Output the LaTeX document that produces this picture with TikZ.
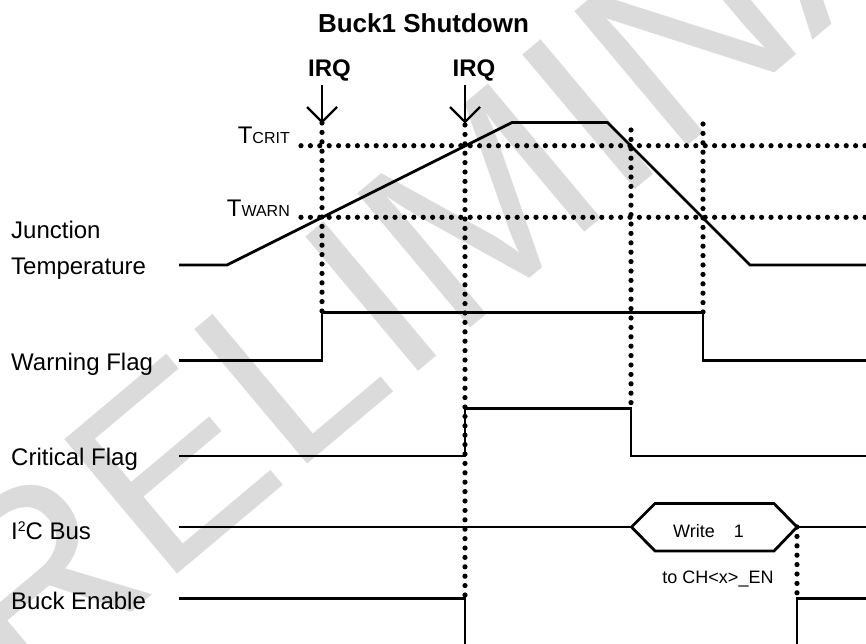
\documentclass[tikz,border=0pt]{standalone}
\usepackage{fontspec}
\setmainfont{Liberation Sans}
\usetikzlibrary{calc}
\begin{document}
\begin{tikzpicture}[x=1pt,y=-1pt,
  wave/.style={line width=2.8pt, line join=miter},
  dotline/.style={line width=5.2pt, line cap=round, dash pattern=on 0pt off 9.4pt},
  irqarrow/.style={line width=2.4pt},
  lbl/.style={anchor=base west, inner sep=0pt, font=\fontsize{24}{28}\selectfont},
  small/.style={inner sep=0pt, font=\fontsize{18}{22}\selectfont},
  boldlbl/.style={anchor=base, inner sep=0pt, font=\bfseries\fontsize{24}{28}\selectfont},
  watermark/.style={anchor=base west, inner sep=0pt, text=black!14, font=\fontsize{255}{255}\selectfont}]
\useasboundingbox (0,0) rectangle (866,644);
\clip (0,0) rectangle (866,644);
\fill[white] (0,0) rectangle (866,644);
% watermark
\node[watermark, rotate=40] (wm) at (-110,815) {PRELIMINARY};
% title and labels
\node[boldlbl, font=\bfseries\fontsize{26}{30}\selectfont] (title) at (423.5,33) {Buck1 Shutdown};
\node[boldlbl] (irq1) at (329.5,77) {IRQ};
\node[boldlbl] (irq2) at (474,77) {IRQ};
\node[anchor=base east, inner sep=0pt] (tcrit) at (290,144) {\fontsize{24}{24}\selectfont T\fontsize{16}{16}\selectfont CRIT};
\node[anchor=base east, inner sep=0pt] (twarn) at (290,216) {\fontsize{24}{24}\selectfont T\fontsize{16}{16}\selectfont WARN};
\node[lbl] (ljt1) at (11,238) {Junction};
\node[lbl] (ljt2) at (11,274) {Temperature};
\node[lbl] (lwf) at (11,370) {Warning Flag};
\node[lbl] (lcf) at (11,465) {Critical Flag};
\node[lbl] (li2c) at (11,539) {I\raisebox{8pt}{\fontsize{14}{14}\selectfont 2}C Bus};
\node[lbl] (lbe) at (11,609) {Buck Enable};
% key coordinates
\coordinate (a1top) at (322,85);
\coordinate (a1tip) at (322,122);
\coordinate (a2top) at (465,85);
\coordinate (a2tip) at (465,122);
\coordinate (hexL) at (631.5,527);
\coordinate (hexTL) at (655,503.5);
\coordinate (hexTR) at (774,503.5);
\coordinate (hexR) at (797,527);
\coordinate (hexBR) at (774,551);
\coordinate (hexBL) at (655,551);
% dotted threshold and event lines
\draw[dotline] (301,145.7) -- (870,145.7);
\draw[dotline] (301,217.3) -- (870,217.3);
\draw[dotline] (322,123) -- (322,313);
\draw[dotline] (465,125) -- (465,598);
\draw[dotline] (631,130) -- (631,408);
\draw[dotline] (703,124) -- (703,313);
\draw[dotline] (hexR) -- (797,598);
% IRQ arrows
\draw[irqarrow] (a1top) -- (a1tip);
\draw[irqarrow, line join=miter] ($(a1tip)+(-15,-15)$) -- (a1tip) -- ($(a1tip)+(15,-15)$);
\draw[irqarrow] (a2top) -- (a2tip);
\draw[irqarrow, line join=miter] ($(a2tip)+(-15,-15)$) -- (a2tip) -- ($(a2tip)+(15,-15)$);
% waveforms
\draw[wave] (179,265) -- (227,265) -- (512,122.5) -- (607.5,122.5) -- (750,265) -- (870,265);
\draw[wave] (179,360.5) -- (322,360.5) -- (322,312.5) -- (703,312.5) -- (703,360.5) -- (870,360.5);
\draw[wave] (179,456) -- (465,456) -- (465,408.5) -- (631,408.5) -- (631,456) -- (870,456);
\draw[wave] (179,527) -- (hexL);
\draw[wave, fill=white] (hexL) -- (hexTL) -- (hexTR) -- (hexR) -- (hexBR) -- (hexBL) -- cycle;
\draw[wave] (hexR) -- (870,527);
\draw[wave] (179,598.5) -- (465,598.5) -- (465,650);
\draw[wave] (797,650) -- (797,598.5) -- (870,598.5);
% bus annotation
\node[small, anchor=base west] (wr) at (673,537) {Write\hspace{19pt}1};
\node[small, anchor=base] (chen) at (718,583) {to CH<x>\_EN};
\end{tikzpicture}
\end{document}
